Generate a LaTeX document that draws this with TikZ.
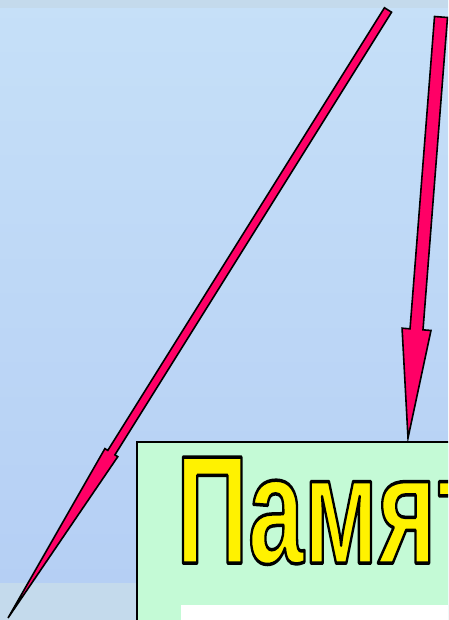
\documentclass[tikz,border=0pt]{standalone}
\usepackage{fontspec}
\setmainfont{Liberation Sans}
\usepackage{graphicx}
\usetikzlibrary{calc}
\definecolor{skytop}{RGB}{198,224,248}
\definecolor{skybot}{RGB}{180,206,244}
\definecolor{skyband}{RGB}{196,218,236}
\definecolor{mint}{RGB}{196,250,214}
\definecolor{arrowpink}{RGB}{255,0,102}
\newcommand\pinkarrow[5]{%
  \path ($(#2)!#5!(#1)$) coordinate (hb);
  \draw[arrowbody] ($(#1)!#3!90:(#2)$) -- ($(hb)!#3!90:(#2)$) -- ($(hb)!#4!90:(#2)$)
    -- (#2) -- ($(hb)!#4!-90:(#2)$) -- ($(hb)!#3!-90:(#2)$) -- ($(#1)!#3!-90:(#2)$) -- cycle;
}
\newcommand\bigword[1]{\scalebox{0.65}[1]{\fontsize{154}{154}\selectfont\bfseries\color{yellow}%
  \special{pdf:code q 0 0 0 RG 2 Tr 3.5 w 1 j}#1\special{pdf:code Q}}}

\begin{document}
\begin{tikzpicture}[
  x=1pt, y=-1pt,
  arrowbody/.style={fill=arrowpink, draw=black, line width=1.6pt, line join=miter},
  membox/.style={rectangle, draw=black, line width=1.5pt, fill=mint, anchor=north west, minimum width=340pt, minimum height=220pt, inner sep=0pt},
  panel/.style={rectangle, fill=white, anchor=north west, minimum width=300pt, minimum height=60pt, inner sep=0pt},
  title/.style={anchor=base west, inner sep=0pt}
]
\useasboundingbox (0,0) rectangle (448,620);
\clip (0,0) rectangle (448,620);
\shade[top color=skytop, bottom color=skybot] (0,0) rectangle (448,620);
\fill[skyband] (0,0) rectangle (448,8);
\fill[skyband] (0,583) rectangle (448,620);

\coordinate (tailA) at (388,10);
\coordinate (tipA) at (8,618);
\coordinate (tailB) at (441,17);
\coordinate (tipB) at (408,438);
\pinkarrow{tailA}{tipA}{4.2pt}{7.6pt}{195pt}
\pinkarrow{tailB}{tipB}{6.5pt}{14.5pt}{109pt}

\node[membox] (box) at (136,441) {};
\node[panel] (blank) at (181,605) {};
\node[title] (word) at (176,563) {\bigword{Память}};
\end{tikzpicture}
\end{document}
